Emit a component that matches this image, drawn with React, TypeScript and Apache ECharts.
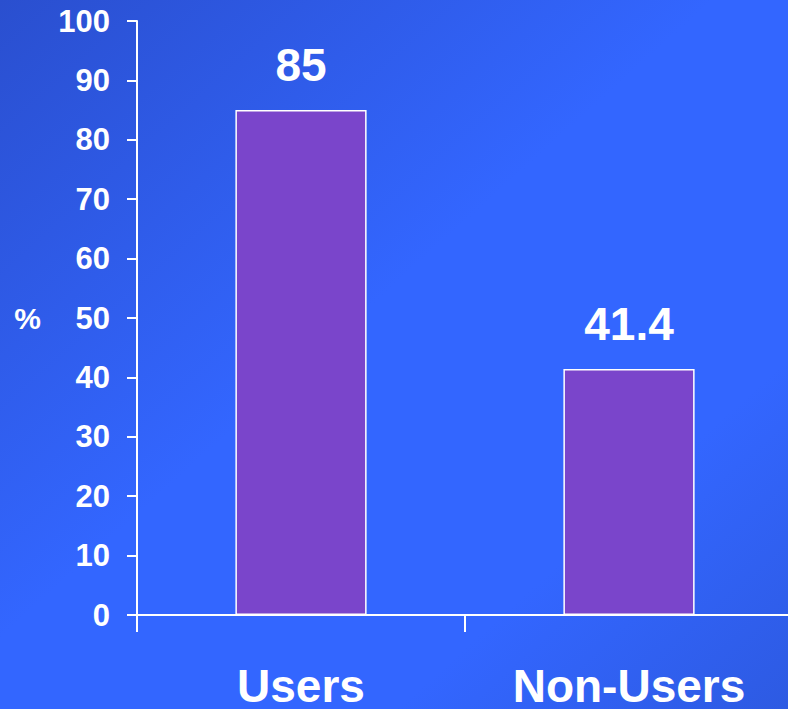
import React, { useEffect, useRef } from "react";
import * as echarts from "echarts";

const categories = ["Users", "Non-Users"];
const values = [85, 41.4];
const yTicks = { min: 0, max: 100, interval: 10 };
const yName = "%";

export default function App() {
  const ref = useRef<HTMLDivElement>(null);
  useEffect(() => {
    const chart = echarts.init(ref.current!, undefined, { renderer: "svg" });
    const font = "'Liberation Sans', Arial, sans-serif";
    chart.setOption({
      animation: false,
      backgroundColor: new echarts.graphic.LinearGradient(0, 0, 1, 1, [
        { offset: 0, color: "#2a4fcf" },
        { offset: 0.45, color: "#3366ff" },
        { offset: 0.75, color: "#3366ff" },
        { offset: 1, color: "#2d5ae2" },
      ]),
      grid: { left: 137, top: 21, bottom: 93, right: 0 },
      xAxis: {
        type: "category",
        data: categories,
        axisLine: { lineStyle: { color: "#ffffff", width: 2 } },
        axisTick: { show: true, length: 17, lineStyle: { color: "#ffffff", width: 2 } },
        axisLabel: {
          color: "#ffffff",
          fontSize: 46,
          fontWeight: "bold",
          fontFamily: font,
          margin: 48,
        },
        splitLine: { show: false },
      },
      yAxis: {
        type: "value",
        min: yTicks.min,
        max: yTicks.max,
        interval: yTicks.interval,
        name: yName,
        nameLocation: "middle",
        nameRotate: 0,
        nameGap: 96,
        nameTextStyle: { color: "#ffffff", fontSize: 30, fontWeight: "bold", fontFamily: font, align: "right" },
        axisLine: { show: true, lineStyle: { color: "#ffffff", width: 2 } },
        axisTick: { show: true, length: 10, lineStyle: { color: "#ffffff", width: 2 } },
        axisLabel: {
          color: "#ffffff",
          fontSize: 31,
          fontWeight: "bold",
          fontFamily: font,
          margin: 27,
        },
        splitLine: { show: false },
      },
      series: [
        {
          type: "bar",
          data: values,
          barWidth: "40%",
          itemStyle: { color: "#7a45cb", borderColor: "#ffffff", borderWidth: 1.5 },
          label: {
            show: true,
            position: "top",
            distance: 22,
            color: "#ffffff",
            fontSize: 46,
            fontWeight: "bold",
            fontFamily: font,
          },
        },
      ],
    });
    return () => chart.dispose();
  }, []);
  return (
    <div style={{ position: "absolute", left: 0, top: 0, width: 788, height: 709, overflow: "hidden" }}>
      <div ref={ref} style={{ width: 793, height: 709 }} />
    </div>
  );
}
